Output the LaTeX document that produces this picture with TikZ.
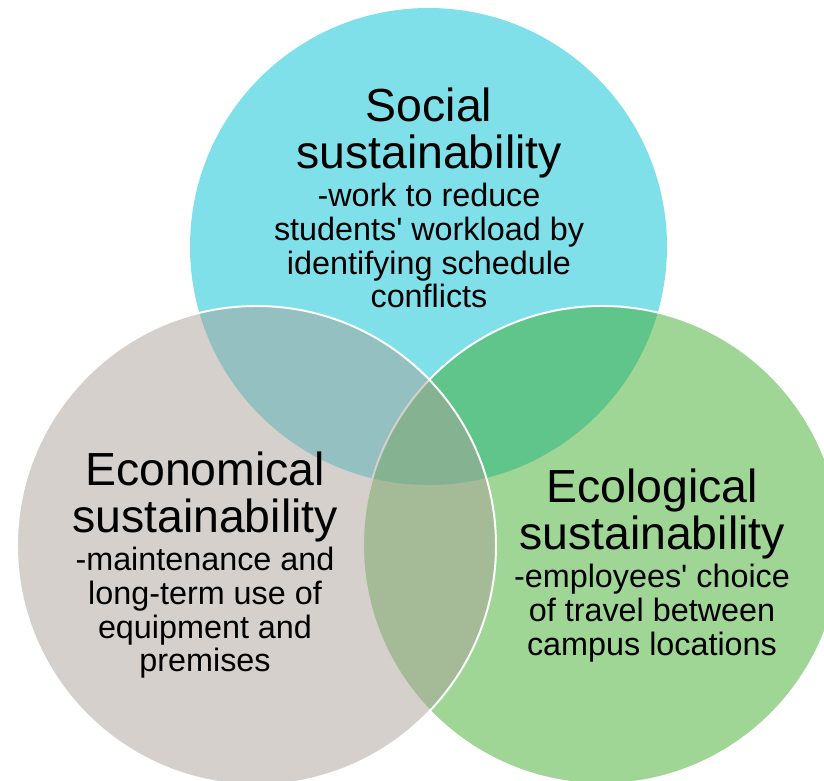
\documentclass[tikz,border=0pt]{standalone}
\usepackage{fontspec}
\setmainfont{Liberation Sans}
\usetikzlibrary{positioning}
\definecolor{socialcyan}{RGB}{128,224,234}
\definecolor{econgray}{RGB}{171,161,153}
\definecolor{ecolgreen}{RGB}{63,171,43}
\tikzset{
	venn/.style={draw=white, line width=1.4pt, fill opacity=0.5},
	heading/.style={font=\fontsize{33}{33.4}\selectfont, align=center, inner sep=0pt},
	detail/.style={font=\fontsize{23}{24}\selectfont, align=center, inner sep=0pt}
}

\begin{document}
\begin{tikzpicture}[x=0.025cm, y=-0.025cm]

	\useasboundingbox (0,0) rectangle (824,781);

	% the three circles
	\fill[socialcyan] (428.5,246.5) circle (238.5);
	\draw[venn, fill=ecolgreen] (602,545) circle (239);
	\draw[venn, fill=econgray] (256.5,545.5) circle (239.5);

	% texts
	\node[heading, anchor=north] (social) at (429,88) {Social\\sustainability};
	\node[detail, below=0.1cm of social] (socialtxt) {-work to reduce\\students\textquotesingle{} workload by\\identifying schedule\\conflicts};

	\node[heading, anchor=north] (econ) at (205,452) {Economical\\sustainability};
	\node[detail, below=0.1cm of econ] (econtxt) {-maintenance and\\long-term use of\\equipment and\\premises};

	\node[heading, anchor=north] (ecol) at (652,469) {Ecological\\sustainability};
	\node[detail, below=0.1cm of ecol] (ecoltxt) {-employees\textquotesingle{} choice\\of travel between\\campus locations};

\end{tikzpicture}
\end{document}
